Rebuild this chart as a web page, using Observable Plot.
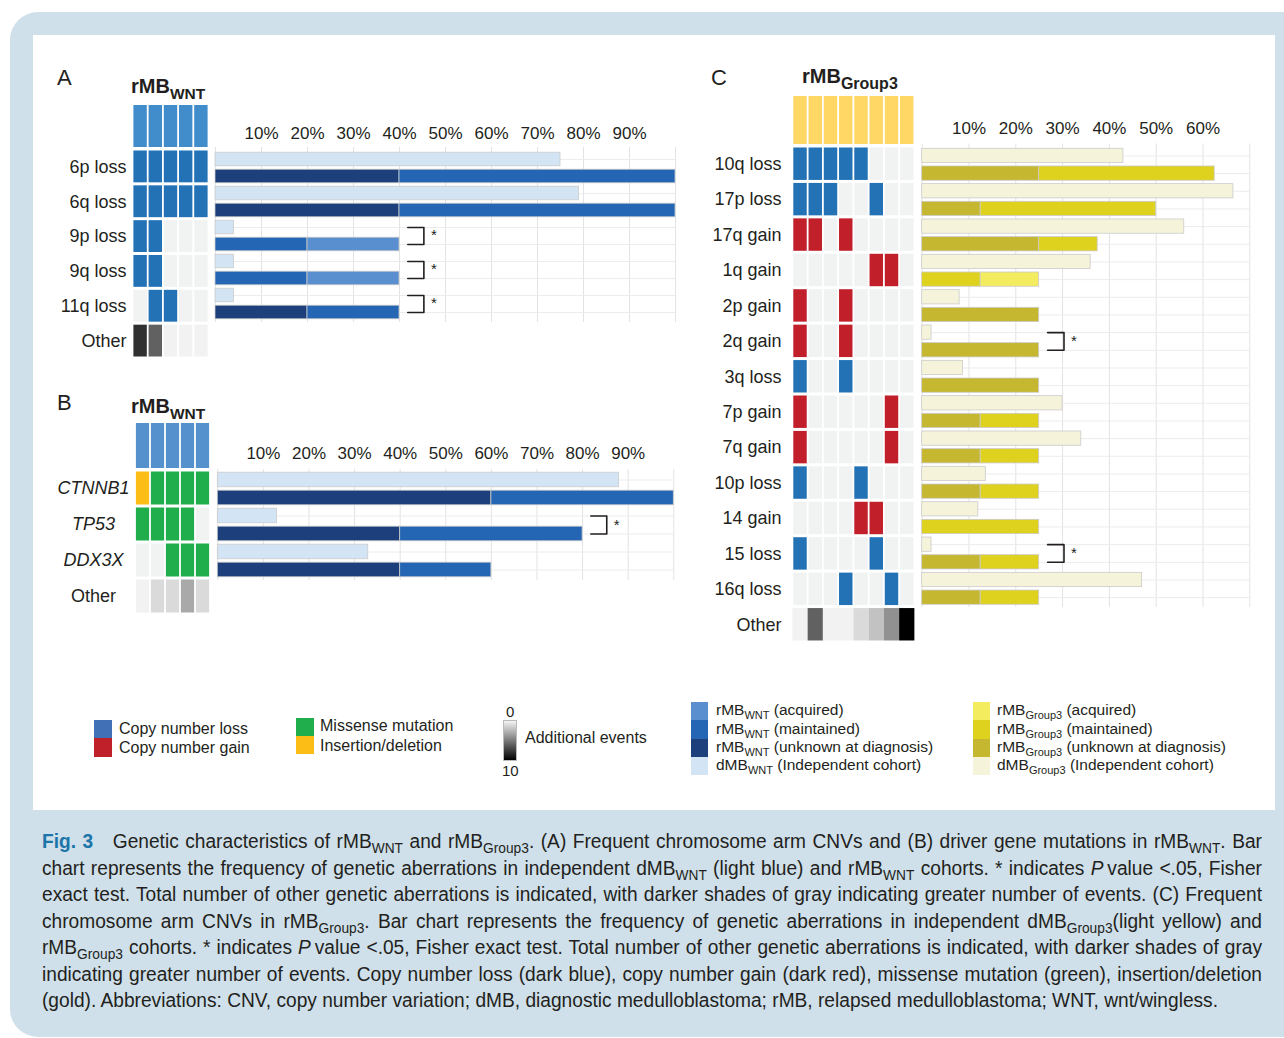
<!DOCTYPE html>
<html><head><meta charset="utf-8">
<script src="https://cdn.jsdelivr.net/npm/d3@7"></script>
<script src="https://cdn.jsdelivr.net/npm/@observablehq/plot@0.6"></script>
<style>
html,body{margin:0;padding:0;background:#fff;}
#fig{position:relative;width:1284px;height:1038px;overflow:hidden;font-family:"Liberation Sans",Arial,sans-serif;color:#231f20;}
#frame{position:absolute;left:10px;top:12px;width:1320px;height:1025px;background:#cfe0ea;border-radius:28px;}
#white{position:absolute;left:33px;top:35px;width:1242px;height:775px;background:#fff;}
.pw{position:absolute;left:0;top:0;}
.pw svg{background:transparent !important;max-width:none !important;overflow:visible;}
.t{position:absolute;white-space:nowrap;line-height:1;}
.sw{position:absolute;}
#caption{position:absolute;left:42px;top:828px;font-family:"Liberation Sans",Arial,sans-serif;font-size:19.5px;color:#231f20;}
#caption .ln{height:26.5px;line-height:26.5px;text-align:justify;text-align-last:justify;white-space:nowrap;transform-origin:0 0;}
#caption .ln.last{text-align-last:left;}
#caption .fig{color:#1b75a9;font-weight:bold;}
.csub{font-size:14px;position:relative;top:5px;}
#measure{position:absolute;visibility:hidden;white-space:nowrap;font-family:"Liberation Sans",Arial,sans-serif;font-size:19.5px;}
</style>
</head><body>
<div id="fig"><div id="frame"></div><div id="white"></div></div>
<script>
// ---------------- DATA ----------------
const wntSamples = ["W1","W2","W3","W4","W5"];
const g3Samples = ["G1","G2","G3","G4","G5","G6","G7","G8"];

// Panel A: chromosome arm CNVs in rMB WNT
const cnvWntRows = ["6p loss","6q loss","9p loss","9q loss","11q loss"];
const cnvWntCalls = ["LLLLL","LLLLL","LL...","LL...",".LL.."];
const cnvWntOther = [8,6,0,0,0];
const cnvWntDmb = [75,79,4,4,4];
const cnvWntUnknown = [40,40,0,0,20];
const cnvWntMaintained = [60,60,20,20,20];
const cnvWntAcquired = [0,0,20,20,0];
const cnvWntSig = [0,0,1,1,1];

// Panel B: driver gene mutations in rMB WNT
const mutWntGenes = ["CTNNB1","TP53","DDX3X"];
const mutWntCalls = ["IMMMM","MMMM.","..MMM"];
const mutWntOther = [0,1,1,3,1];
const mutWntDmb = [88,13,33];
const mutWntUnknown = [60,40,40];
const mutWntMaintained = [40,40,20];
const mutWntAcquired = [0,0,0];
const mutWntSig = [0,1,0];

// Panel C: chromosome arm CNVs in rMB Group3
const cnvG3Rows = ["10q loss","17p loss","17q gain","1q gain","2p gain","2q gain","3q loss","7p gain","7q gain","10p loss","14 gain","15 loss","16q loss"];
const cnvG3Calls = ["LLLLL...","LLL..L..","GG.G....",".....GG.","G..G....","G..G....","L..L....","G.....G.","G.....G.","L...L...","....GG..","L....L..","...L..L."];
const cnvG3Other = [0,6,0,0,1,2,4,10];
const cnvG3Dmb = [43,66.5,56,36,8,2,8.7,30,34,13.6,12,2,47];
const cnvG3Unknown = [25,12.5,25,0,25,25,25,12.5,12.5,12.5,0,12.5,12.5];
const cnvG3Maintained = [37.5,37.5,12.5,12.5,0,0,0,12.5,12.5,12.5,25,12.5,12.5];
const cnvG3Acquired = [0,0,0,12.5,0,0,0,0,0,0,0,0,0];
const cnvG3Sig = [0,0,0,0,0,1,0,0,0,0,0,1,0];

const ticksWnt = [10,20,30,40,50,60,70,80,90];
const ticksG3 = [10,20,30,40,50,60];

// ---------------- STYLES ----------------
const statusColor = {L:"#2372b6", G:"#c1202a", M:"#20ae4c", I:"#fbbd16", ".":"#f1f2f2"};
const otherGray = d3.scaleLinear().domain([0,10]).range(["#f2f2f2","#000000"]);
const palWnt = {d:"#d3e4f4", u:"#1d3f7c", m:"#2466b3", a:"#5a8fcf"};
const palG3 = {d:"#f5f3da", u:"#c5b730", m:"#dfd21f", a:"#f4ec5f"};
const baseStyle = {fontFamily:"Liberation Sans, Arial, sans-serif", fontSize:"17px", color:"#231f20", background:"transparent", overflow:"visible", maxWidth:"none"};

const fig = document.getElementById("fig");
function place(node){ const d=document.createElement("div"); d.className="pw"; d.appendChild(node); fig.appendChild(d); }

function heatmap({samples, rows, calls, other, headerColor, xRange, headerY, bodyY, labelRight, labelCenter, italic, gapless}){
  const rowsAll = [...rows, "Other"];
  const cells = [];
  rows.forEach((r,i)=>samples.forEach((s,j)=>cells.push({row:r, sample:s, fill:statusColor[calls[i][j]]})));
  const otherCells = samples.map((s,j)=>({row:"Other", sample:s, fill:otherGray(other[j])}));
  place(Plot.plot({
    width: xRange[1]+1, height: headerY[1]+2,
    marginLeft: xRange[0], marginRight: 1, marginTop: headerY[0], marginBottom: 2,
    x:{type:"band", domain:samples, padding:0, round:false, axis:null},
    y:{type:"band", domain:["h"], padding:0, round:false, axis:null},
    color:{type:"identity"},
    style: baseStyle,
    marks:[Plot.cell(samples, {x:d=>d, y:()=>"h", fill:headerColor, insetLeft:0.9, insetRight:0.9})]
  }));
  const marks = [
    Plot.cell(cells, {x:"sample", y:"row", fill:"fill", insetLeft:0.9, insetRight:0.9, insetTop:1.5, insetBottom:1.5}),
    Plot.cell(otherCells, {x:"sample", y:"row", fill:"fill", insetLeft:gapless?0:0.9, insetRight:gapless?0:0.9, insetTop:1.5, insetBottom:1.5})
  ];
  if (labelCenter !== undefined) {
    marks.push(Plot.text(rows, {y:d=>d, frameAnchor:"left", dx:labelCenter-xRange[0], textAnchor:"middle", fontSize:18, fontStyle:italic?"italic":"normal", fill:"#231f20"}));
    marks.push(Plot.text(["Other"], {y:d=>d, frameAnchor:"left", dx:labelCenter-xRange[0], textAnchor:"middle", fontSize:18, fill:"#231f20"}));
  } else {
    marks.push(Plot.axisY({tickSize:0, tickPadding:xRange[0]-labelRight, fontSize:18, label:null}));
  }
  place(Plot.plot({
    width: xRange[1]+1, height: bodyY[1]+2,
    marginLeft: xRange[0], marginRight: 1, marginTop: bodyY[0], marginBottom: 2,
    x:{type:"band", domain:samples, padding:0, round:false, axis:null},
    y:{type:"band", domain:rowsAll, padding:0, round:false, axis: labelCenter !== undefined ? null : undefined},
    color:{type:"identity"},
    style: baseStyle,
    marks
  }));
}

function bars({rows, dmb, unk, mnt, acq, sig, pal, xDomain, xRange, frameY, yRange, ticks, tickPadding}){
  const keys = rows.flatMap(r=>[r+"|d", r+"|r"]);
  const data = [];
  const brackets = [], stars = [];
  rows.forEach((r,i)=>{
    data.push({key:r+"|d", v:dmb[i], fill:pal.d});
    if (unk[i]>0) data.push({key:r+"|r", v:unk[i], fill:pal.u});
    if (mnt[i]>0) data.push({key:r+"|r", v:mnt[i], fill:pal.m});
    if (acq[i]>0) data.push({key:r+"|r", v:acq[i], fill:pal.a});
    if (sig[i]) {
      const m = Math.max(dmb[i], unk[i]+mnt[i]+acq[i]);
      brackets.push({id:r, key:r+"|d", x:m+1.8},{id:r, key:r+"|d", x:m+5.3},{id:r, key:r+"|r", x:m+5.3},{id:r, key:r+"|r", x:m+1.8});
      stars.push({key:r+"|r", x:m+5.3});
    }
  });
  place(Plot.plot({
    width: xRange[1]+30, height: frameY[1]+5,
    marginLeft: xRange[0], marginRight: 30, marginTop: frameY[0], marginBottom: 5,
    x:{domain:xDomain},
    y:{type:"band", domain:keys, range:yRange, padding:0, round:false, axis:null},
    color:{type:"identity"},
    style: baseStyle,
    marks:[
      Plot.ruleX(d3.range(xDomain[0], xDomain[1]+1, 10), {stroke:"#e3e3e3", strokeWidth:1}),
      Plot.ruleY(keys, {y:d=>d, stroke:"#ececec", strokeWidth:1}),
      Plot.barX(data, {x:"v", y:"key", fill:"fill", stroke:"#cbcbcb", strokeWidth:0.8, insetTop:1.7, insetBottom:1.7}),
      Plot.line(brackets, {x:"x", y:"key", z:"id", stroke:"#231f20", strokeWidth:1.6}),
      Plot.text(stars, {x:"x", y:"key", text:()=>"*", dx:10, dy:-9, fontSize:15, fill:"#231f20"}),
      Plot.axisX({anchor:"top", ticks, tickFormat:d=>d+"%", tickSize:0, tickPadding, fontSize:17, label:null})
    ]
  }));
}

// Panel A
heatmap({samples:wntSamples, rows:cnvWntRows, calls:cnvWntCalls, other:cnvWntOther, headerColor:"#418dcc",
  xRange:[132.5,208.5], headerY:[105,147], bodyY:[149,358], labelRight:126});
bars({rows:cnvWntRows, dmb:cnvWntDmb, unk:cnvWntUnknown, mnt:cnvWntMaintained, acq:cnvWntAcquired, sig:cnvWntSig, pal:palWnt,
  xDomain:[0,100], xRange:[215,675], frameY:[147,322], yRange:[150.5,320.5], ticks:ticksWnt, tickPadding:9});
// Panel B
heatmap({samples:wntSamples, rows:mutWntGenes, calls:mutWntCalls, other:mutWntOther, headerColor:"#5591cd",
  xRange:[135,210], headerY:[423,468], bodyY:[470,614], labelCenter:93, italic:true});
bars({rows:mutWntGenes, dmb:mutWntDmb, unk:mutWntUnknown, mnt:mutWntMaintained, acq:mutWntAcquired, sig:mutWntSig, pal:palWnt,
  xDomain:[0,100], xRange:[217.3,673.3], frameY:[469,580], yRange:[470.5,578.5], ticks:ticksWnt, tickPadding:10});
// Panel C
heatmap({samples:g3Samples, rows:cnvG3Rows, calls:cnvG3Calls, other:cnvG3Other, headerColor:"#fed765",
  xRange:[792.4,914.4], headerY:[96,144], bodyY:[146,642], labelRight:781, gapless:true});
bars({rows:cnvG3Rows, dmb:cnvG3Dmb, unk:cnvG3Unknown, mnt:cnvG3Maintained, acq:cnvG3Acquired, sig:cnvG3Sig, pal:palG3,
  xDomain:[0,70], xRange:[921.7,1249.3], frameY:[143.5,607], yRange:[146.6,606], ticks:ticksG3, tickPadding:10});

// ---------------- TEXT & LEGENDS ----------------
function txt(html, x, baseline, size, extra){
  const d=document.createElement("div"); d.className="t";
  d.style.left=x+"px"; d.style.top=(baseline-0.85*size)+"px"; d.style.fontSize=size+"px";
  if (extra) Object.assign(d.style, extra);
  d.innerHTML=html; fig.appendChild(d); return d;
}
function sw(x,y,w,h,color,extra){
  const d=document.createElement("div"); d.className="sw";
  Object.assign(d.style,{left:x+"px",top:y+"px",width:w+"px",height:h+"px",background:color}, extra||{});
  fig.appendChild(d);
}
const sub = (t,size,shift)=>`<span style="font-size:${size}px;position:relative;top:${shift}px">${t}</span>`;

txt("A", 57, 86, 22);
txt("B", 57, 411, 22);
txt("C", 711, 86, 22);
txt("rMB"+sub("WNT",15.5,6), 131, 93, 20, {fontWeight:"bold"});
txt("rMB"+sub("WNT",15.5,6), 131, 413, 20, {fontWeight:"bold"});
txt("rMB"+sub("Group3",16,6), 802, 83, 20, {fontWeight:"bold"});

// Legend: CNV
sw(94,720,18,18,"#4270b6"); sw(94,738,18,19,"#c0202a");
txt("Copy number loss",119,735,16); txt("Copy number gain",119,754,16);
// Legend: mutation
sw(296,718,18,18,"#1fae4b"); sw(296,736,18,18,"#fbbd16");
txt("Missense mutation",320,732,16); txt("Insertion/deletion",320,752,16);
// Legend: other events gradient
sw(503,720,14,41,"linear-gradient(#f4f4f4,#000)",{boxSizing:"border-box",border:"1px solid #bbb"});
txt("0",506,717,15); txt("10",502,776,15);
txt("Additional events",525,744,16);
// Legend: WNT cohorts
const wntLeg = [["#5a8fcf","rMB","WNT","(acquired)"],["#2466b3","rMB","WNT","(maintained)"],["#1d3f7c","rMB","WNT","(unknown at diagnosis)"],["#d3e4f4","dMB","WNT","(Independent cohort)"]];
wntLeg.forEach((l,i)=>{ sw(691,702+i*18.3,17,18.3,l[0]); txt(l[1]+sub(l[2],11,4)+" "+l[3],716,715.5+i*18.3,15.5); });
const g3Leg = [["#f4ec5f","rMB","Group3","(acquired)"],["#dfd21f","rMB","Group3","(maintained)"],["#c5b730","rMB","Group3","(unknown at diagnosis)"],["#f5f3da","dMB","Group3","(Independent cohort)"]];
g3Leg.forEach((l,i)=>{ sw(973,702+i*18.3,17,18.3,l[0]); txt(l[1]+sub(l[2],11,4)+" "+l[3],997,715.5+i*18.3,15.5); });

// Caption
const S = t=>`<span class="csub">${t}</span>`;
const capLines = [
  `<span class="fig">Fig. 3</span>&nbsp;&nbsp; Genetic characteristics of rMB${S("WNT")} and rMB${S("Group3")}. (A) Frequent chromosome arm CNVs and (B) driver gene mutations in rMB${S("WNT")}. Bar`,
  `chart represents the frequency of genetic aberrations in independent dMB${S("WNT")} (light blue) and rMB${S("WNT")} cohorts. * indicates <i>P</i>&#8201;value &lt;.05, Fisher`,
  `exact test. Total number of other genetic aberrations is indicated, with darker shades of gray indicating greater number of events. (C) Frequent`,
  `chromosome arm CNVs in rMB${S("Group3")}. Bar chart represents the frequency of genetic aberrations in independent dMB${S("Group3")}(light yellow) and`,
  `rMB${S("Group3")} cohorts. * indicates <i>P</i>&#8201;value &lt;.05, Fisher exact test. Total number of other genetic aberrations is indicated, with darker shades of gray`,
  `indicating greater number of events. Copy number loss (dark blue), copy number gain (dark red), missense mutation (green), insertion/deletion`,
  `(gold). Abbreviations: CNV, copy number variation; dMB, diagnostic medulloblastoma; rMB, relapsed medulloblastoma; WNT, wnt/wingless.`
];
const meas=document.createElement("span"); meas.id="measure"; meas.innerHTML=capLines[capLines.length-1]; fig.appendChild(meas);
const natural = meas.getBoundingClientRect().width; meas.remove();
const scale = 1176/natural;
const cap=document.createElement("div"); cap.id="caption";
cap.innerHTML = capLines.map((l,i)=>`<div class="ln${i===capLines.length-1?" last":""}" style="width:${1220/scale}px;transform:scaleX(${scale})">${l}</div>`).join("");
fig.appendChild(cap);
</script>
</body></html>
